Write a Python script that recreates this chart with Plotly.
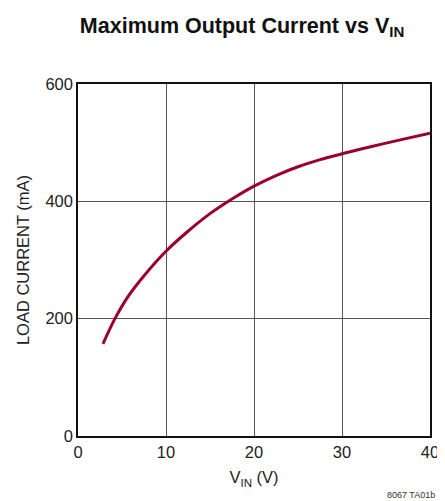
import plotly.graph_objects as go

vin = [2.84, 4.2, 5.7, 7.6, 10.0, 12.5, 15.0, 17.5, 20.0, 22.5, 25.0, 27.5, 30.0, 33.5, 37.0, 40.0]
load_current = [157, 200, 238, 275, 315, 349, 379, 404, 426, 444, 459, 471, 481, 494, 506, 516]

x_ticks = [0, 10, 20, 30, 40]
y_ticks = [0, 200, 400, 600]

FONT = "Liberation Sans"

fig = go.Figure()
fig.add_trace(go.Scatter(x=vin, y=load_current, mode="lines",
                         line=dict(color="#99002b", width=3, shape="spline", smoothing=1.0),
                         showlegend=False, hoverinfo="skip"))

fig.update_layout(
    width=445, height=501,
    margin=dict(l=70, r=23, t=76, b=73),
    paper_bgcolor="white", plot_bgcolor="white",
    font=dict(family=FONT, color="#222", size=16),
    title=dict(text="<b>Maximum Output Current vs V<sub>IN</sub></b>",
               x=0.526, xanchor="center", y=0.966, yanchor="middle",
               font=dict(family=FONT, size=21.5, color="#111")),
    xaxis=dict(range=[0, 40], tickvals=x_ticks, showgrid=True, gridcolor="#555", gridwidth=1,
               showline=True, linecolor="#111", linewidth=1.5, mirror=True, zeroline=False,
               ticks="", ticklen=0, tickfont=dict(size=16.5), automargin=False,
               title=dict(text="V<sub>IN</sub> (V)", font=dict(size=16.5), standoff=12)),
    yaxis=dict(range=[0, 600], tickvals=y_ticks, showgrid=True, gridcolor="#555", gridwidth=1,
               showline=True, linecolor="#111", linewidth=1.5, mirror=True, zeroline=False,
               ticks="", ticklen=0, tickfont=dict(size=16.5), automargin=False,
               title=dict(text="LOAD CURRENT (mA)", font=dict(size=16.5), standoff=12)),
)

fig.add_annotation(text="8067 TA01b", xref="paper", yref="paper", x=1.02, y=-0.168,
                   xanchor="right", yanchor="middle", showarrow=False,
                   font=dict(family=FONT, size=9, color="#333"))

fig.write_html("out.html")
